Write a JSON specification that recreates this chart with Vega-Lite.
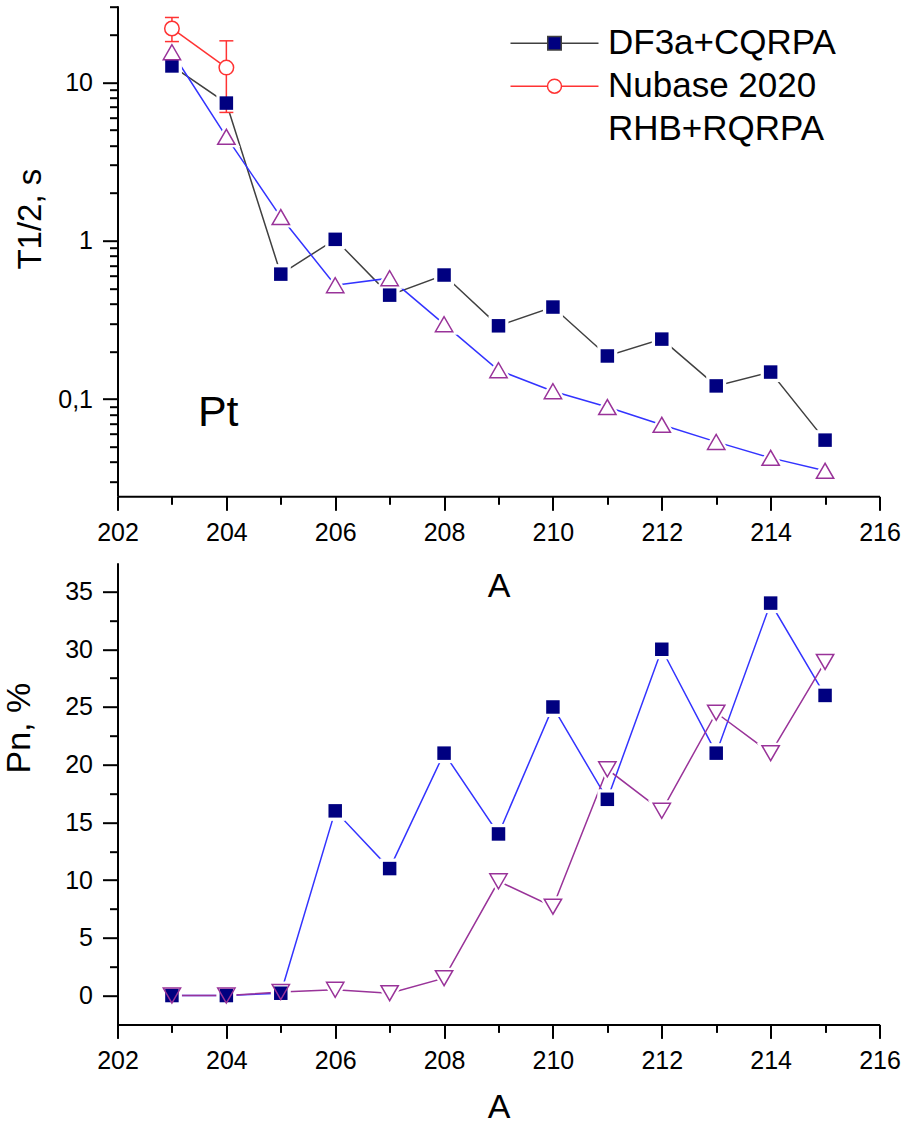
{
  "$schema": "https://vega.github.io/schema/vega-lite/v6.json",
  "padding": {"left": 2.5, "top": 5.7, "right": 5, "bottom": 3},
  "bounds": "flush",
  "spacing": 66,
  "config": {
    "font": "Liberation Sans",
    "view": {"stroke": null},
    "axis": {
      "grid": false, "domainColor": "black", "domainWidth": 2, "tickColor": "black", "tickWidth": 2,
      "labelColor": "black", "titleColor": "black", "labelFont": "Liberation Sans", "titleFont": "Liberation Sans",
      "titleFontSize": 34, "titleFontWeight": "normal", "labelFlush": false, "labelOverlap": false
    }
  },
  "datasets": {
    "top": [
      {"A": 203, "T": 12.7, "series": "DF3a+CQRPA"},
      {"A": 204, "T": 7.4, "series": "DF3a+CQRPA"},
      {"A": 205, "T": 0.615, "series": "DF3a+CQRPA"},
      {"A": 206, "T": 1.02, "series": "DF3a+CQRPA"},
      {"A": 207, "T": 0.453, "series": "DF3a+CQRPA"},
      {"A": 208, "T": 0.607, "series": "DF3a+CQRPA"},
      {"A": 209, "T": 0.29, "series": "DF3a+CQRPA"},
      {"A": 210, "T": 0.381, "series": "DF3a+CQRPA"},
      {"A": 211, "T": 0.187, "series": "DF3a+CQRPA"},
      {"A": 212, "T": 0.239, "series": "DF3a+CQRPA"},
      {"A": 213, "T": 0.121, "series": "DF3a+CQRPA"},
      {"A": 214, "T": 0.148, "series": "DF3a+CQRPA"},
      {"A": 215, "T": 0.055, "series": "DF3a+CQRPA"},
      {"A": 203, "T": 21.9, "lo": 18.1, "hi": 25.7, "series": "Nubase 2020"},
      {"A": 204, "T": 12.4, "lo": 6.46, "hi": 18.3, "series": "Nubase 2020"},
      {"A": 203, "T": 15.5, "series": "RHB+RQRPA"},
      {"A": 204, "T": 4.53, "series": "RHB+RQRPA"},
      {"A": 205, "T": 1.41, "series": "RHB+RQRPA"},
      {"A": 206, "T": 0.524, "series": "RHB+RQRPA"},
      {"A": 207, "T": 0.58, "series": "RHB+RQRPA"},
      {"A": 208, "T": 0.297, "series": "RHB+RQRPA"},
      {"A": 209, "T": 0.152, "series": "RHB+RQRPA"},
      {"A": 210, "T": 0.112, "series": "RHB+RQRPA"},
      {"A": 211, "T": 0.089, "series": "RHB+RQRPA"},
      {"A": 212, "T": 0.0687, "series": "RHB+RQRPA"},
      {"A": 213, "T": 0.0536, "series": "RHB+RQRPA"},
      {"A": 214, "T": 0.0425, "series": "RHB+RQRPA"},
      {"A": 215, "T": 0.0352, "series": "RHB+RQRPA"}
    ],
    "bottom": [
      {"A": 203, "Pn": 0, "series": "DF3a+CQRPA"},
      {"A": 204, "Pn": 0, "series": "DF3a+CQRPA"},
      {"A": 205, "Pn": 0.2, "series": "DF3a+CQRPA"},
      {"A": 206, "Pn": 16, "series": "DF3a+CQRPA"},
      {"A": 207, "Pn": 11, "series": "DF3a+CQRPA"},
      {"A": 208, "Pn": 21, "series": "DF3a+CQRPA"},
      {"A": 209, "Pn": 14, "series": "DF3a+CQRPA"},
      {"A": 210, "Pn": 25, "series": "DF3a+CQRPA"},
      {"A": 211, "Pn": 17, "series": "DF3a+CQRPA"},
      {"A": 212, "Pn": 30, "series": "DF3a+CQRPA"},
      {"A": 213, "Pn": 21, "series": "DF3a+CQRPA"},
      {"A": 214, "Pn": 34, "series": "DF3a+CQRPA"},
      {"A": 215, "Pn": 26, "series": "DF3a+CQRPA"},
      {"A": 203, "Pn": 0, "series": "RHB+RQRPA"},
      {"A": 204, "Pn": 0, "series": "RHB+RQRPA"},
      {"A": 205, "Pn": 0.3, "series": "RHB+RQRPA"},
      {"A": 206, "Pn": 0.5, "series": "RHB+RQRPA"},
      {"A": 207, "Pn": 0.2, "series": "RHB+RQRPA"},
      {"A": 208, "Pn": 1.5, "series": "RHB+RQRPA"},
      {"A": 209, "Pn": 9.9, "series": "RHB+RQRPA"},
      {"A": 210, "Pn": 7.7, "series": "RHB+RQRPA"},
      {"A": 211, "Pn": 19.6, "series": "RHB+RQRPA"},
      {"A": 212, "Pn": 16.0, "series": "RHB+RQRPA"},
      {"A": 213, "Pn": 24.5, "series": "RHB+RQRPA"},
      {"A": 214, "Pn": 21.0, "series": "RHB+RQRPA"},
      {"A": 215, "Pn": 28.9, "series": "RHB+RQRPA"}
    ]
  },
  "vconcat": [
    {
      "width": 762,
      "height": 490.6,
      "encoding": {
        "x": {"field": "A", "type": "quantitative", "scale": {"domain": [202, 216], "nice": false, "zero": false},
          "axis": {"title": "A", "values": [202,203,204,205,206,207,208,209,210,211,212,213,214,215,216],
            "labelExpr": "datum.value % 2 == 0 ? datum.label : ''",
            "labelFontSize": {"condition": {"test": "datum.value % 2 == 0", "value": 25}, "value": 0},
            "tickSize": {"condition": {"test": "datum.value % 2 == 0", "value": 14}, "value": 8},
            "labelPadding": 10, "titleY": 100.7, "titleBaseline": "alphabetic"}},
        "y": {"field": "T", "type": "quantitative", "scale": {"type": "log", "domain": [0.0243, 30.5], "nice": false},
          "axis": {"title": "T1/2, s", "titleFontSize": 33,
            "values": [0.03,0.04,0.05,0.06,0.07,0.08,0.09,0.1,0.2,0.3,0.4,0.5,0.6,0.7,0.8,0.9,1,2,3,4,5,6,7,8,9,10,20,30],
            "labelExpr": "datum.value === 0.1 ? '0,1' : datum.value === 1 ? '1' : datum.value === 10 ? '10' : ''",
            "labelFontSize": {"condition": {"test": "datum.value === 0.1 || datum.value === 1 || datum.value === 10", "value": 25}, "value": 0},
            "tickSize": {"condition": {"test": "datum.value === 0.1 || datum.value === 1 || datum.value === 10", "value": 15}, "value": 8},
            "labelPadding": 10, "titleX": -77.5, "titleY": 213, "titleAngle": -90, "titleBaseline": "alphabetic", "titleAlign": "center"}}
      },
      "layer": [
        {"data": {"name": "top"}, "transform": [{"filter": "datum.series == 'DF3a+CQRPA'"}],
          "mark": {"type": "line", "color": "#404040", "strokeWidth": 1.5}},
        {"data": {"name": "top"}, "transform": [{"filter": "datum.series == 'Nubase 2020'"}],
          "mark": {"type": "line", "color": "#ff3333", "strokeWidth": 1.5}},
        {"data": {"name": "top"}, "transform": [{"filter": "datum.series == 'RHB+RQRPA'"}],
          "mark": {"type": "line", "color": "#3333ff", "strokeWidth": 1.5}},
        {"data": {"name": "top"}, "transform": [{"filter": "datum.series == 'RHB+RQRPA'"}],
          "mark": {"type": "point", "shape": "triangle-up", "size": 300, "filled": true, "fill": "white", "stroke": "white", "strokeWidth": 6, "opacity": 1}},
        {"data": {"name": "top"}, "transform": [{"filter": "datum.series == 'DF3a+CQRPA'"}],
          "mark": {"type": "point", "shape": "square", "size": 400, "filled": true, "color": "white", "opacity": 1}},
        {"data": {"name": "top"}, "transform": [{"filter": "datum.series == 'Nubase 2020'"}],
          "mark": {"type": "rule", "color": "#ff3333", "strokeWidth": 1.5},
          "encoding": {"y": {"field": "lo", "type": "quantitative", "title": "T1/2, s"}, "y2": {"field": "hi"}}},
        {"data": {"name": "top"}, "transform": [{"filter": "datum.series == 'Nubase 2020'"}],
          "mark": {"type": "tick", "orient": "horizontal", "color": "#ff3333", "size": 14, "thickness": 1.5, "opacity": 1},
          "encoding": {"y": {"field": "lo", "type": "quantitative", "title": "T1/2, s"}}},
        {"data": {"name": "top"}, "transform": [{"filter": "datum.series == 'Nubase 2020'"}],
          "mark": {"type": "tick", "orient": "horizontal", "color": "#ff3333", "size": 14, "thickness": 1.5, "opacity": 1},
          "encoding": {"y": {"field": "hi", "type": "quantitative", "title": "T1/2, s"}}},
        {"data": {"name": "top"}, "transform": [{"filter": "datum.series == 'DF3a+CQRPA'"}],
          "mark": {"type": "point", "shape": "square", "size": 182, "filled": true, "color": "#000080", "opacity": 1}},
        {"data": {"name": "top"}, "transform": [{"filter": "datum.series == 'Nubase 2020'"}],
          "mark": {"type": "point", "shape": "circle", "size": 210, "filled": true, "fill": "white", "stroke": "#ff3333", "strokeWidth": 1.5, "opacity": 1}},
        {"data": {"name": "top"}, "transform": [{"filter": "datum.series == 'RHB+RQRPA'"}],
          "mark": {"type": "point", "shape": "triangle-up", "size": 300, "filled": false, "stroke": "#993399", "strokeWidth": 1.5, "opacity": 1}},
        {"data": {"values": [{"A": 203.85, "T": 0.0674, "label": "Pt"}]},
          "mark": {"type": "text", "align": "center", "baseline": "alphabetic", "fontSize": 43, "font": "Liberation Sans", "color": "black"},
          "encoding": {"text": {"field": "label"}}},
        {"data": {"values": []},
          "mark": {"type": "point", "filled": true, "opacity": 1, "strokeWidth": 1.5},
          "encoding": {
            "shape": {"field": "series", "type": "nominal",
              "scale": {"domain": ["DF3a+CQRPA", "Nubase 2020", "RHB+RQRPA"],
                "range": ["M-44,0H-7M7,0H44M-6.75,-6.75H6.75V6.75H-6.75Z", "M-44,0H-7M7,0H44M7,0A7,7,0,1,1,-7,0A7,7,0,1,1,7,0Z", "M0,0"]},
              "legend": {"orient": "none", "legendX": 419.5, "legendY": 20, "title": null, "padding": 0, "symbolSize": 4, "symbolStrokeWidth": 1.5,
                "labelFontSize": 35, "labelFont": "Liberation Sans", "labelColor": "black", "labelOffset": 36, "labelLimit": 500, "rowPadding": 7,
                "encode": {"labels": {"dx": {"condition": {"test": "datum.index === 0", "value": 8}, "value": 0}}}}},
            "fill": {"field": "series", "type": "nominal",
              "scale": {"domain": ["DF3a+CQRPA", "Nubase 2020", "RHB+RQRPA"], "range": ["#000080", "#ffffff", "transparent"]},
              "legend": {"orient": "none", "legendX": 419.5, "legendY": 20, "title": null, "padding": 0, "symbolSize": 4, "symbolStrokeWidth": 1.5,
                "labelFontSize": 35, "labelFont": "Liberation Sans", "labelColor": "black", "labelOffset": 36, "labelLimit": 500, "rowPadding": 7,
                "encode": {"labels": {"dx": {"condition": {"test": "datum.index === 0", "value": 8}, "value": 0}}}}},
            "stroke": {"field": "series", "type": "nominal",
              "scale": {"domain": ["DF3a+CQRPA", "Nubase 2020", "RHB+RQRPA"], "range": ["#404040", "#ff3333", "transparent"]},
              "legend": {"orient": "none", "legendX": 419.5, "legendY": 20, "title": null, "padding": 0, "symbolSize": 4, "symbolStrokeWidth": 1.5,
                "labelFontSize": 35, "labelFont": "Liberation Sans", "labelColor": "black", "labelOffset": 36, "labelLimit": 500, "rowPadding": 7,
                "encode": {"labels": {"dx": {"condition": {"test": "datum.index === 0", "value": 8}, "value": 0}}}}}
          }}
      ]
    },
    {
      "width": 762,
      "height": 461.7,
      "data": {"name": "bottom"},
      "encoding": {
        "x": {"field": "A", "type": "quantitative", "scale": {"domain": [202, 216], "nice": false, "zero": false},
          "axis": {"title": "A", "values": [202,203,204,205,206,207,208,209,210,211,212,213,214,215,216],
            "labelExpr": "datum.value % 2 == 0 ? datum.label : ''",
            "labelFontSize": {"condition": {"test": "datum.value % 2 == 0", "value": 25}, "value": 0},
            "tickSize": {"condition": {"test": "datum.value % 2 == 0", "value": 14}, "value": 8},
            "labelPadding": 10, "titleY": 93, "titleBaseline": "alphabetic"}},
        "y": {"field": "Pn", "type": "quantitative", "scale": {"domain": [-2.5, 37.5], "nice": false, "zero": false},
          "axis": {"title": "Pn, %",
            "values": [0,2.5,5,7.5,10,12.5,15,17.5,20,22.5,25,27.5,30,32.5,35],
            "labelExpr": "datum.value % 5 == 0 ? datum.label : ''",
            "labelFontSize": {"condition": {"test": "datum.value % 5 == 0", "value": 25}, "value": 0},
            "tickSize": {"condition": {"test": "datum.value % 5 == 0", "value": 15}, "value": 8},
            "labelPadding": 10, "titleX": -88, "titleY": 165, "titleAngle": -90, "titleBaseline": "alphabetic", "titleAlign": "center"}}
      },
      "layer": [
        {"transform": [{"filter": "datum.series == 'DF3a+CQRPA'"}],
          "mark": {"type": "line", "color": "#3333ff", "strokeWidth": 1.5}},
        {"transform": [{"filter": "datum.series == 'RHB+RQRPA'"}],
          "mark": {"type": "line", "color": "#993399", "strokeWidth": 1.5}},
        {"transform": [{"filter": "datum.series == 'DF3a+CQRPA'"}],
          "mark": {"type": "point", "shape": "square", "size": 400, "filled": true, "color": "white", "opacity": 1}},
        {"transform": [{"filter": "datum.series == 'RHB+RQRPA'"}],
          "mark": {"type": "point", "shape": "triangle-down", "size": 300, "filled": true, "fill": "white", "stroke": "white", "strokeWidth": 6, "opacity": 1}},
        {"transform": [{"filter": "datum.series == 'DF3a+CQRPA'"}],
          "mark": {"type": "point", "shape": "square", "size": 182, "filled": true, "color": "#000080", "opacity": 1}},
        {"transform": [{"filter": "datum.series == 'RHB+RQRPA'"}],
          "mark": {"type": "point", "shape": "triangle-down", "size": 300, "filled": false, "stroke": "#993399", "strokeWidth": 1.5, "opacity": 1}}
      ]
    }
  ]
}
